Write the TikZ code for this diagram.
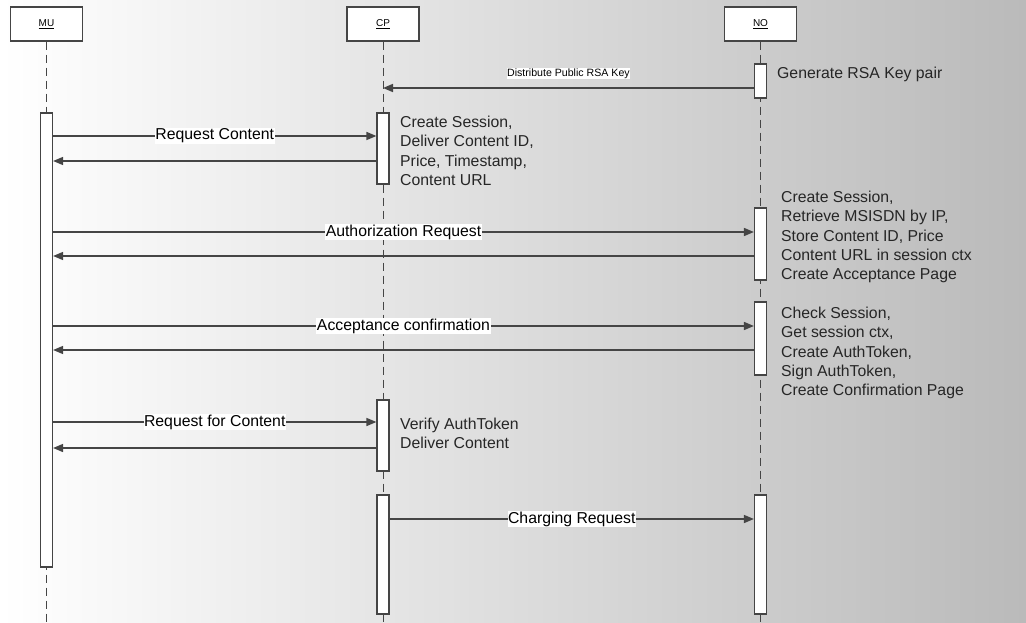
\documentclass[tikz,border=0pt]{standalone}
\usepackage{fontspec}
\setmainfont{Liberation Sans}
\usepackage{tikz}
\usetikzlibrary{arrows.meta}
\definecolor{linegray}{HTML}{454545}
\definecolor{bgright}{HTML}{BABABA}
\tikzset{
    head/.style={draw=linegray, line width=1.2pt, fill=white, minimum width=72pt, minimum height=34pt, inner sep=0pt, font=\fontsize{10}{11}\selectfont},
    life/.style={draw=linegray, line width=1pt, dash pattern=on 8pt off 5pt},
    actbar/.style={draw=linegray, line width=1.2pt, fill=white, minimum width=12pt, inner sep=0pt},
    msg/.style={draw=linegray, line width=1.5pt, -{Triangle[length=10pt,width=8pt]}},
    lbl/.style={fill=white, inner sep=0.5pt, font=\fontsize{15.8}{17}\selectfont},
    note/.style={anchor=north west, align=left, inner sep=0pt, text=black!85, font=\fontsize{15.8}{19.3}\selectfont}
}
\newcommand{\actbar}[4]{
    \node[actbar, minimum height={#4-#3}] (#1) at (#2,{(#3+#4)/2}) {};
}

\begin{document}
\begin{tikzpicture}[x=1pt, y=-1pt]

    % Background
    \shade[left color=white, right color=bgright] (0,0) rectangle (1026,623);
    \useasboundingbox (0,0) rectangle (1026,623);

    % Header boxes of the three parties
    \node[head] (mu) at (46.5,24) {\underline{MU}};
    \node[head] (cp) at (383,24) {\underline{CP}};
    \node[head] (no) at (760.5,24) {\underline{NO}};

    % Draw the dashed lifelines
    \foreach \p in {mu,cp,no}{
        \draw[life] (\p.south) -- (\p.south |- 0,623);
    }

    % Activation bars
    \actbar{mubar}{46.5}{113}{567}
    \actbar{cpbara}{383}{113}{184}
    \actbar{cpbarb}{383}{400}{471}
    \actbar{cpbarc}{383}{495}{614}
    \actbar{nobara}{760.5}{64}{98}
    \actbar{nobarb}{760.5}{208}{280}
    \actbar{nobarc}{760.5}{302}{375}
    \actbar{nobard}{760.5}{495}{614}

    % Messages
    \draw[msg] (nobara.west |- 0,88) -- (cp.south |- 0,88)
        node[midway, above=8pt, fill=white, inner sep=0.5pt, font=\fontsize{10.6}{11}\selectfont] {Distribute Public RSA Key};
    \draw[msg] (mubar.east |- 0,136) -- (cpbara.west |- 0,136) node[midway, lbl] {Request Content};
    \draw[msg] (cpbara.west |- 0,161) -- (mubar.east |- 0,161);
    \draw[msg] (mubar.east |- 0,232) -- (nobarb.west |- 0,232) node[midway, lbl] {Authorization Request};
    \draw[msg] (nobarb.west |- 0,256) -- (mubar.east |- 0,256);
    \draw[msg] (mubar.east |- 0,326) -- (nobarc.west |- 0,326) node[midway, lbl] {Acceptance confirmation};
    \draw[msg] (nobarc.west |- 0,350) -- (mubar.east |- 0,350);
    \draw[msg] (mubar.east |- 0,422) -- (cpbarb.west |- 0,422) node[midway, lbl] {Request for Content};
    \draw[msg] (cpbarb.west |- 0,448) -- (mubar.east |- 0,448);
    \draw[msg] (cpbarc.east |- 0,519) -- (nobard.west |- 0,519) node[midway, lbl] {Charging Request};

    % Notes beside the bars
    \node[note] (genkey) at (777,67) {Generate RSA Key pair};
    \node[note] (cpnotea) at (400,116) {Create Session,\\Deliver Content ID,\\Price, Timestamp,\\Content URL};
    \node[note] (nonoteb) at (781,191) {Create Session,\\Retrieve MSISDN by IP,\\Store Content ID, Price\\Content URL in session ctx\\Create Acceptance Page};
    \node[note] (nonotec) at (781,307) {Check Session,\\Get session ctx,\\Create AuthToken,\\Sign AuthToken,\\Create Confirmation Page};
    \node[note] (cpnoteb) at (400,418) {Verify AuthToken\\Deliver Content};

\end{tikzpicture}
\end{document}
